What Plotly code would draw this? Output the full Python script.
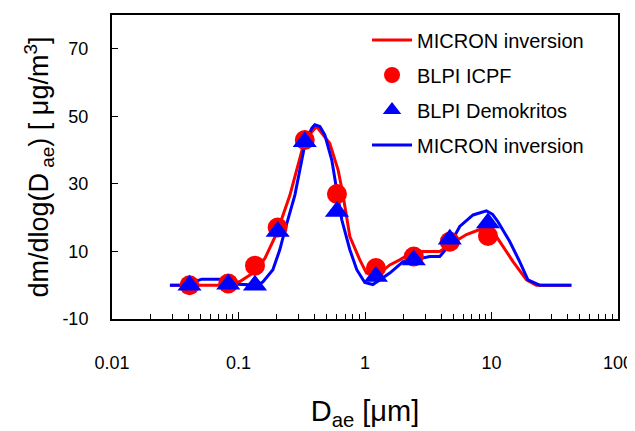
import plotly.graph_objects as go

# Marker data (BLPI stages)
blpi_x = [0.041, 0.083, 0.135, 0.204, 0.334, 0.60, 1.22, 2.43, 4.68, 9.38]
icpf_y = [0.0, 0.5, 5.8, 17.1, 43.0, 27.0, 5.1, 8.5, 12.9, 14.6]
demo_y = [0.0, 0.3, 0.0, 15.9, 42.5, 21.8, 2.6, 7.5, 13.6, 18.4]

# MICRON inversion (red)
red_x = [0.0287, 0.0824, 0.1026, 0.135, 0.162, 0.201, 0.255, 0.334, 0.414, 0.527,
         0.614, 0.668, 0.759, 0.910, 1.028, 1.217, 1.57, 1.883, 2.43, 3.9, 4.68,
         6.34, 8.07, 9.68, 11.6, 14.8, 18.9, 22.6, 42.8]
red_y = [0, 0, 1.1, 4, 8, 15.5, 26.7, 43, 47, 42,
         34, 27, 14.4, 7.5, 3.6, 2.6, 6, 7.5, 10, 10, 12,
         15, 16.5, 17.4, 13, 7, 1.6, 0, 0]

# MICRON inversion (blue)
blue_x = [0.0287, 0.0378, 0.0512, 0.0713, 0.0824, 0.0989, 0.1423, 0.156, 0.187, 0.212,
          0.233, 0.279, 0.334, 0.380, 0.401, 0.440, 0.481, 0.547, 0.599, 0.656,
          0.759, 0.861, 0.996, 1.153, 1.57, 2.00, 2.43, 3.25, 3.9, 4.68,
          5.61, 7.15, 9.12, 10.2, 11.25, 13.9, 16.7, 19.4, 24.0, 42.8]
blue_y = [0, 0, 1.8, 1.8, 1.5, 0.3, 0, 1, 4.6, 10.5,
          16.4, 26.7, 41.5, 46.5, 47.5, 47, 44.5, 37, 28, 19.3,
          10.5, 4.6, 0.8, 0.2, 3.6, 7, 7.5, 8.5, 8.5, 12,
          17.4, 20.8, 22, 21, 18.8, 13, 7, 1.6, 0, 0]

y_ticks = [-10, 10, 30, 50, 70]
y_tick_labels = ["-10", "10", "30", "50", "70"]
x_ticks = [0.01, 0.1, 1, 10, 100]
x_tick_labels = ["0.01", "0.1", "1", "10", "100"]

RED = "#FF0000"
BLUE = "#0000FF"

fig = go.Figure()
fig.add_trace(go.Scatter(x=red_x, y=red_y, mode="lines", name="MICRON inversion",
                         line=dict(color=RED, width=3), legendrank=1, legendgroup="a"))
fig.add_trace(go.Scatter(x=blue_x, y=blue_y, mode="lines", name="MICRON inversion",
                         line=dict(color=BLUE, width=3), legendrank=4, legendgroup="d"))
fig.add_trace(go.Scatter(x=blpi_x, y=icpf_y, mode="markers", name="BLPI ICPF",
                         marker=dict(color=RED, size=20, symbol="circle"),
                         legendrank=2, legendgroup="b"))
fig.add_trace(go.Scatter(x=blpi_x, y=demo_y, mode="markers", name="BLPI Demokritos",
                         marker=dict(color=BLUE, size=21, symbol="triangle-up"),
                         legendrank=3, legendgroup="c"))

font = "Liberation Sans, Arial, sans-serif"
fig.update_layout(
    width=627, height=423,
    margin=dict(l=104, r=17, t=7, b=112),
    paper_bgcolor="white", plot_bgcolor="white",
    font=dict(family=font, color="black", size=18),
    showlegend=True,
    legend=dict(x=0.504, y=0.982, xanchor="left", yanchor="top",
                bgcolor="rgba(0,0,0,0)", font=dict(size=20, family=font),
                traceorder="grouped", tracegroupgap=6, itemwidth=40),
    xaxis=dict(type="log", range=[-2, 2], tickvals=x_ticks, ticktext=x_tick_labels,
               ticks="inside", ticklen=7, tickwidth=1, tickcolor="black",
               showline=True, linecolor="black", linewidth=2, mirror=True,
               showgrid=False, zeroline=False, ticklabelstandoff=26, automargin=False,
               minor=dict(ticks="inside", ticklen=5, tickcolor="black", dtick="D1", showgrid=False),
               title=dict(text="D<sub>ae</sub> [μm]", font=dict(size=29), standoff=31)),
    yaxis=dict(range=[-10, 80], tickvals=y_ticks, ticktext=y_tick_labels,
               ticks="inside", ticklen=6, tickwidth=1, tickcolor="black",
               showline=True, linecolor="black", linewidth=2, mirror=True,
               showgrid=False, zeroline=False, ticklabelstandoff=18, automargin=False,
               title=dict(text="dm/dlog(D<sub> ae</sub>) [ μg/m<sup>3</sup>]",
                          font=dict(size=27), standoff=6)),
)

fig.write_html("out.html")
